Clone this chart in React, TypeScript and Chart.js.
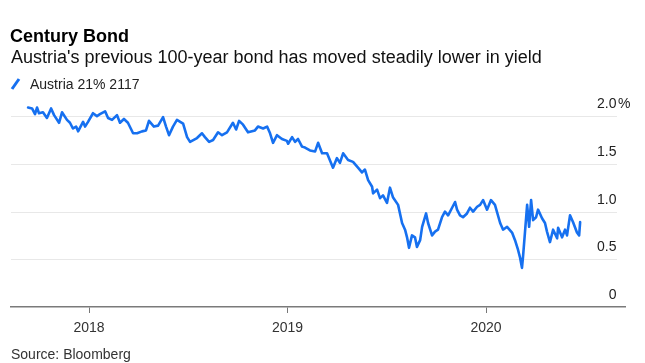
import React, { useEffect, useRef } from 'react';
import { Chart, registerables } from 'chart.js';

Chart.register(...registerables);

const FONT = "'Liberation Sans', Arial, Helvetica, sans-serif";
const BLUE = '#1670f0';

const title = 'Century Bond';
const subtitle = "Austria's previous 100-year bond has moved steadily lower in yield";
const seriesName = 'Austria 21% 2117';
const source = 'Source: Bloomberg';

// x values as decimal years
const years = [
  2017.693, 2017.713, 2017.728, 2017.738, 2017.748, 2017.768, 2017.788, 2017.809, 2017.824, 2017.849,
  2017.864, 2017.889, 2017.904, 2017.919, 2017.935, 2017.945, 2017.970, 2017.980, 2017.995, 2018.020,
  2018.040, 2018.055, 2018.081, 2018.096, 2018.116, 2018.141, 2018.156, 2018.176, 2018.196, 2018.222,
  2018.242, 2018.267, 2018.287, 2018.302, 2018.327, 2018.348, 2018.373, 2018.388, 2018.403, 2018.423,
  2018.443, 2018.474, 2018.494, 2018.509, 2018.544, 2018.569, 2018.584, 2018.605, 2018.625, 2018.650,
  2018.670, 2018.695, 2018.725, 2018.741, 2018.756, 2018.776, 2018.801, 2018.836, 2018.851, 2018.877,
  2018.897, 2018.912, 2018.927, 2018.947, 2018.972, 2018.997, 2019.003, 2019.023, 2019.038, 2019.053,
  2019.073, 2019.088, 2019.113, 2019.139, 2019.154, 2019.174, 2019.199, 2019.229, 2019.249, 2019.264,
  2019.280, 2019.305, 2019.330, 2019.355, 2019.375, 2019.390, 2019.406, 2019.426, 2019.431, 2019.451,
  2019.466, 2019.481, 2019.501, 2019.516, 2019.531, 2019.557, 2019.577, 2019.592, 2019.602, 2019.612,
  2019.627, 2019.642, 2019.652, 2019.668, 2019.678, 2019.698, 2019.708, 2019.728, 2019.743, 2019.758,
  2019.778, 2019.793, 2019.809, 2019.829, 2019.844, 2019.854, 2019.869, 2019.884, 2019.904, 2019.919,
  2019.935, 2019.955, 2019.970, 2019.985, 2020.005, 2020.025, 2020.045, 2020.071, 2020.086, 2020.106,
  2020.131, 2020.146, 2020.161, 2020.171, 2020.181, 2020.186, 2020.196, 2020.207, 2020.217, 2020.227,
  2020.237, 2020.252, 2020.262, 2020.282, 2020.297, 2020.307, 2020.322, 2020.338, 2020.358, 2020.363,
  2020.383, 2020.398, 2020.408, 2020.423, 2020.438, 2020.458, 2020.469, 2020.474,
];

// yield, percent
const yields = [
  2.09, 2.08, 2.02, 2.09, 2.03, 2.04, 1.98, 2.08, 2.01, 1.93,
  2.04, 1.96, 1.93, 1.87, 1.89, 1.84, 1.94, 1.89, 1.94, 2.03,
  2.00, 2.02, 2.05, 1.98, 1.96, 2.01, 1.93, 1.97, 1.93, 1.82,
  1.82, 1.84, 1.85, 1.95, 1.89, 1.90, 1.99, 1.89, 1.80, 1.89,
  1.96, 1.92, 1.78, 1.73, 1.77, 1.82, 1.78, 1.73, 1.75, 1.83,
  1.80, 1.83, 1.93, 1.86, 1.95, 1.91, 1.83, 1.85, 1.89, 1.87,
  1.89, 1.82, 1.72, 1.80, 1.76, 1.74, 1.71, 1.78, 1.73, 1.76,
  1.68, 1.67, 1.64, 1.63, 1.72, 1.61, 1.61, 1.46, 1.56, 1.51,
  1.61, 1.54, 1.52, 1.46, 1.41, 1.44, 1.33, 1.26, 1.19, 1.23,
  1.14, 1.17, 1.09, 1.25, 1.15, 1.07, 0.88, 0.81, 0.73, 0.62,
  0.75, 0.73, 0.63, 0.70, 0.84, 0.98, 0.88, 0.75, 0.79, 0.81,
  0.94, 1.00, 0.96, 1.04, 1.10, 1.02, 0.96, 0.94, 0.98, 1.04,
  1.00, 1.05, 1.07, 1.12, 1.02, 1.12, 1.07, 0.88, 0.81, 0.84,
  0.78, 0.70, 0.60, 0.52, 0.41, 0.52, 0.78, 1.07, 0.84, 1.12,
  0.91, 0.94, 1.02, 0.93, 0.88, 0.79, 0.68, 0.81, 0.72, 0.83,
  0.73, 0.81, 0.75, 0.96, 0.89, 0.78, 0.75, 0.89,
];

const xTickYears = [2018, 2019, 2020];
const yTicks = [0, 0.5, 1.0, 1.5, 2.0];
const yTickLabels = ['0', '0.5', '1.0', '1.5', '2.0'];

const X_MIN = 2017.607;
const X_MAX = 2020.7;
const Y_MIN = 0;
const Y_MAX = 2.2;

const decor = {
  id: 'decor',
  beforeDatasetsDraw(chart: any) {
    const { ctx, chartArea } = chart;
    const ys = chart.scales.y;
    ctx.save();
    ctx.strokeStyle = '#e8e8e8';
    ctx.lineWidth = 1;
    yTicks.forEach((v) => {
      if (v === 0) return;
      const py = Math.round(ys.getPixelForValue(v)) + 0.5;
      ctx.beginPath();
      ctx.moveTo(chartArea.left, py);
      ctx.lineTo(chartArea.right - 8, py);
      ctx.stroke();
    });
    ctx.restore();
  },
  afterDraw(chart: any) {
    const { ctx, chartArea } = chart;
    const ys = chart.scales.y;
    ctx.save();
    // y labels
    ctx.font = `14px ${FONT}`;
    ctx.fillStyle = '#222';
    ctx.textBaseline = 'alphabetic';
    const rx = chartArea.right - 8.5;
    yTicks.forEach((v, i) => {
      const py = ys.getPixelForValue(v);
      ctx.textAlign = 'right';
      ctx.fillText(yTickLabels[i], rx, py - 8);
      if (i === yTicks.length - 1) {
        ctx.textAlign = 'left';
        ctx.fillText('%', rx + 1.5, py - 8);
      }
    });
    // header
    ctx.textAlign = 'left';
    ctx.fillStyle = '#000';
    ctx.font = `bold 18px ${FONT}`;
    ctx.fillText(title, 10, 42);
    ctx.font = `18px ${FONT}`;
    ctx.fillStyle = '#111';
    ctx.fillText(subtitle, 11, 63);
    // legend
    ctx.strokeStyle = BLUE;
    ctx.lineWidth = 3;
    ctx.lineCap = 'butt';
    ctx.beginPath();
    ctx.moveTo(12, 89);
    ctx.lineTo(19, 79);
    ctx.stroke();
    ctx.font = `14px ${FONT}`;
    ctx.fillStyle = '#222';
    ctx.fillText(seriesName, 30, 89);
    // source
    ctx.fillStyle = '#333';
    ctx.fillText(source, 11, 359);
    ctx.restore();
  },
};

export default function App() {
  const ref = useRef<HTMLCanvasElement>(null);
  useEffect(() => {
    const canvas = ref.current;
    if (!canvas) return;
    const chart = new Chart(canvas, {
      type: 'line',
      data: {
        datasets: [
          {
            data: years.map((x, i) => ({ x, y: yields[i] })),
            borderColor: BLUE,
            borderWidth: 2.6,
            pointRadius: 0,
            tension: 0,
            fill: false,
            borderJoinStyle: 'round',
            borderCapStyle: 'round',
          },
        ],
      },
      options: {
        animation: false,
        responsive: false,
        maintainAspectRatio: false,
        devicePixelRatio: 1,
        events: [],
        layout: { padding: { left: 11, right: 20, top: 97, bottom: 0 } },
        plugins: {
          legend: { display: false },
          tooltip: { enabled: false },
          title: { display: false },
        },
        scales: {
          x: {
            type: 'linear',
            min: X_MIN,
            max: X_MAX,
            afterBuildTicks: (s: any) => {
              s.ticks = xTickYears.map((v) => ({ value: v }));
            },
            afterFit: (s: any) => {
              s.height = 56;
            },
            grid: { drawOnChartArea: false, drawTicks: true, tickLength: 6, color: '#777', lineWidth: 1 },
            border: { display: true, color: '#7a7a7a', width: 1.5 },
            ticks: {
              font: { family: FONT, size: 14 },
              color: '#333',
              padding: 7,
              maxRotation: 0,
              autoSkip: false,
              callback: (v: any) => String(Math.round(Number(v))),
            },
          },
          y: { type: 'linear', display: false, min: Y_MIN, max: Y_MAX },
        },
      },
      plugins: [decor],
    } as any);
    return () => chart.destroy();
  }, []);
  return (
    <div style={{ position: 'absolute', left: 0, top: 0, width: 645, height: 363, background: '#fff' }}>
      <canvas ref={ref} width={645} height={363} style={{ display: 'block', width: 645, height: 363 }} />
    </div>
  );
}
